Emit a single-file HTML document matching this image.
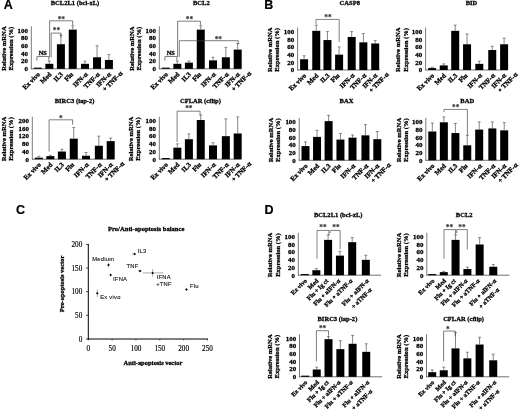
<!DOCTYPE html>
<html lang="en">
<head>
<meta charset="utf-8">
<title>Figure</title>
<style>html,body{margin:0;padding:0;background:#fff;}svg{display:block;}</style>
</head>
<body>
<svg width="520" height="416" viewBox="0 0 520 416">
<defs><filter id="soft" x="0" y="0" width="520" height="416" filterUnits="userSpaceOnUse"><feGaussianBlur stdDeviation="0.35"/></filter></defs>
<rect width="520" height="416" fill="#fff"/>
<g filter="url(#soft)">
<text x="3.70" y="8.60" font-family='"Liberation Sans", sans-serif' font-size="12.5" font-weight="bold" text-anchor="start" fill="#000" stroke="#000" stroke-width="0.2">A</text>
<text x="264.30" y="8.60" font-family='"Liberation Sans", sans-serif' font-size="12.5" font-weight="bold" text-anchor="start" fill="#000" stroke="#000" stroke-width="0.2">B</text>
<text x="15.90" y="213.90" font-family='"Liberation Sans", sans-serif' font-size="12.5" font-weight="bold" text-anchor="start" fill="#000" stroke="#000" stroke-width="0.2">C</text>
<text x="264.50" y="214.00" font-family='"Liberation Sans", sans-serif' font-size="12.5" font-weight="bold" text-anchor="start" fill="#000" stroke="#000" stroke-width="0.2">D</text>
<text x="75.00" y="4.90" font-family='"Liberation Serif", serif' font-size="6.55" font-weight="bold" text-anchor="middle" fill="#000" stroke="#000" stroke-width="0.28">BCL2L1 (bcl-xL)</text>
<line x1="31.30" y1="26.40" x2="31.30" y2="69.10" stroke="#6a6a6a" stroke-width="0.9"/>
<line x1="31.00" y1="68.80" x2="113.30" y2="68.80" stroke="#333" stroke-width="0.7"/>
<text x="27.90" y="71.10" font-family='"Liberation Serif", serif' font-size="6.95" font-weight="bold" text-anchor="end" fill="#000" stroke="#000" stroke-width="0.28">0</text>
<text x="27.90" y="63.42" font-family='"Liberation Serif", serif' font-size="6.95" font-weight="bold" text-anchor="end" fill="#000" stroke="#000" stroke-width="0.28">20</text>
<text x="27.90" y="55.74" font-family='"Liberation Serif", serif' font-size="6.95" font-weight="bold" text-anchor="end" fill="#000" stroke="#000" stroke-width="0.28">40</text>
<text x="27.90" y="48.06" font-family='"Liberation Serif", serif' font-size="6.95" font-weight="bold" text-anchor="end" fill="#000" stroke="#000" stroke-width="0.28">60</text>
<text x="27.90" y="40.38" font-family='"Liberation Serif", serif' font-size="6.95" font-weight="bold" text-anchor="end" fill="#000" stroke="#000" stroke-width="0.28">80</text>
<text x="27.90" y="32.70" font-family='"Liberation Serif", serif' font-size="6.95" font-weight="bold" text-anchor="end" fill="#000" stroke="#000" stroke-width="0.28">100</text>
<text x="6.20" y="48.60" font-family='"Liberation Serif", serif' font-size="6.6" font-weight="bold" text-anchor="middle" fill="#000" transform="rotate(-90 6.20 48.60)" stroke="#000" stroke-width="0.28">Relative mRNA</text>
<text x="13.30" y="48.60" font-family='"Liberation Serif", serif' font-size="6.6" font-weight="bold" text-anchor="middle" fill="#000" transform="rotate(-90 13.30 48.60)" stroke="#000" stroke-width="0.28">Expression (%)</text>
<rect x="33.80" y="67.65" width="8.00" height="1.15" fill="#000"/>
<text x="40.40" y="74.80" font-family='"Liberation Serif", serif' font-size="6.7" font-weight="bold" text-anchor="end" fill="#000" transform="rotate(-45 40.40 74.80)" stroke="#000" stroke-width="0.28">Ex vivo</text>
<rect x="45.35" y="63.81" width="8.00" height="4.99" fill="#000"/>
<line x1="49.35" y1="63.81" x2="49.35" y2="61.12" stroke="#444" stroke-width="0.65"/>
<line x1="47.85" y1="61.12" x2="50.85" y2="61.12" stroke="#444" stroke-width="0.6"/>
<text x="51.95" y="74.80" font-family='"Liberation Serif", serif' font-size="6.7" font-weight="bold" text-anchor="end" fill="#000" transform="rotate(-45 51.95 74.80)" stroke="#000" stroke-width="0.28">Med</text>
<rect x="56.90" y="44.22" width="8.00" height="24.58" fill="#000"/>
<line x1="60.90" y1="44.22" x2="60.90" y2="35.01" stroke="#444" stroke-width="0.65"/>
<line x1="59.40" y1="35.01" x2="62.40" y2="35.01" stroke="#444" stroke-width="0.6"/>
<text x="63.50" y="74.80" font-family='"Liberation Serif", serif' font-size="6.7" font-weight="bold" text-anchor="end" fill="#000" transform="rotate(-45 63.50 74.80)" stroke="#000" stroke-width="0.28">IL3</text>
<rect x="68.75" y="29.63" width="8.00" height="39.17" fill="#000"/>
<line x1="72.75" y1="29.63" x2="72.75" y2="25.79" stroke="#444" stroke-width="0.65"/>
<line x1="71.25" y1="25.79" x2="74.25" y2="25.79" stroke="#444" stroke-width="0.6"/>
<text x="73.75" y="74.80" font-family='"Liberation Serif", serif' font-size="6.7" font-weight="bold" text-anchor="end" fill="#000" transform="rotate(-45 73.75 74.80)" stroke="#000" stroke-width="0.28">Flu</text>
<rect x="81.00" y="63.81" width="8.00" height="4.99" fill="#000"/>
<line x1="85.00" y1="63.81" x2="85.00" y2="61.12" stroke="#444" stroke-width="0.65"/>
<line x1="83.50" y1="61.12" x2="86.50" y2="61.12" stroke="#444" stroke-width="0.6"/>
<text x="88.40" y="74.80" font-family='"Liberation Serif", serif' font-size="6.7" font-weight="bold" text-anchor="end" fill="#000" transform="rotate(-45 88.40 74.80)" stroke="#000" stroke-width="0.28">IFN-<tspan dx="0.3" font-size="7.2">α</tspan></text>
<rect x="93.05" y="57.28" width="8.00" height="11.52" fill="#000"/>
<line x1="97.05" y1="57.28" x2="97.05" y2="45.76" stroke="#444" stroke-width="0.65"/>
<line x1="95.55" y1="45.76" x2="98.55" y2="45.76" stroke="#444" stroke-width="0.6"/>
<text x="100.45" y="74.80" font-family='"Liberation Serif", serif' font-size="6.7" font-weight="bold" text-anchor="end" fill="#000" transform="rotate(-45 100.45 74.80)" stroke="#000" stroke-width="0.28">TNF-<tspan dx="0.3" font-size="7.2">α</tspan></text>
<rect x="104.90" y="59.97" width="8.00" height="8.83" fill="#000"/>
<line x1="108.90" y1="59.97" x2="108.90" y2="54.59" stroke="#444" stroke-width="0.65"/>
<line x1="107.40" y1="54.59" x2="110.40" y2="54.59" stroke="#444" stroke-width="0.6"/>
<text x="111.50" y="74.80" font-family='"Liberation Serif", serif' font-size="6.7" font-weight="bold" text-anchor="end" fill="#000" transform="rotate(-45 111.50 74.80)" stroke="#000" stroke-width="0.28">IFN-<tspan dx="0.3" font-size="7.2">α</tspan></text>
<text x="123.00" y="73.80" font-family='"Liberation Serif", serif' font-size="6.7" font-weight="bold" text-anchor="end" fill="#000" transform="rotate(-45 123.00 73.80)" stroke="#000" stroke-width="0.28">+ TNF-<tspan dx="0.3" font-size="7.2">α</tspan></text>
<polyline points="36.90,60.60 36.90,56.50 48.80,56.50 48.80,60.60" fill="none" stroke="#3a3a3a" stroke-width="0.65"/>
<text x="42.85" y="54.90" font-family='"Liberation Serif", serif' font-size="6.4" font-weight="bold" text-anchor="middle" fill="#000" stroke="#000" stroke-width="0.28">NS</text>
<polyline points="51.20,57.50 51.20,33.10 61.00,33.10 61.00,37.50" fill="none" stroke="#3a3a3a" stroke-width="0.65"/>
<text x="56.50" y="32.70" font-family='"Liberation Serif", serif' font-size="7.3" font-weight="bold" text-anchor="middle" fill="#2a2a2a" stroke="#2a2a2a" stroke-width="0.08">**</text>
<polyline points="49.60,57.50 49.60,20.80 72.60,20.80 72.60,25.00" fill="none" stroke="#3a3a3a" stroke-width="0.65"/>
<text x="61.30" y="22.10" font-family='"Liberation Serif", serif' font-size="7.3" font-weight="bold" text-anchor="middle" fill="#2a2a2a" stroke="#2a2a2a" stroke-width="0.08">**</text>
<text x="201.30" y="4.70" font-family='"Liberation Serif", serif' font-size="6.55" font-weight="bold" text-anchor="middle" fill="#000" stroke="#000" stroke-width="0.28">BCL2</text>
<line x1="159.30" y1="26.40" x2="159.30" y2="69.10" stroke="#6a6a6a" stroke-width="0.9"/>
<line x1="159.00" y1="68.80" x2="241.30" y2="68.80" stroke="#333" stroke-width="0.7"/>
<text x="155.90" y="71.10" font-family='"Liberation Serif", serif' font-size="6.95" font-weight="bold" text-anchor="end" fill="#000" stroke="#000" stroke-width="0.28">0</text>
<text x="155.90" y="63.42" font-family='"Liberation Serif", serif' font-size="6.95" font-weight="bold" text-anchor="end" fill="#000" stroke="#000" stroke-width="0.28">20</text>
<text x="155.90" y="55.74" font-family='"Liberation Serif", serif' font-size="6.95" font-weight="bold" text-anchor="end" fill="#000" stroke="#000" stroke-width="0.28">40</text>
<text x="155.90" y="48.06" font-family='"Liberation Serif", serif' font-size="6.95" font-weight="bold" text-anchor="end" fill="#000" stroke="#000" stroke-width="0.28">60</text>
<text x="155.90" y="40.38" font-family='"Liberation Serif", serif' font-size="6.95" font-weight="bold" text-anchor="end" fill="#000" stroke="#000" stroke-width="0.28">80</text>
<text x="155.90" y="32.70" font-family='"Liberation Serif", serif' font-size="6.95" font-weight="bold" text-anchor="end" fill="#000" stroke="#000" stroke-width="0.28">100</text>
<text x="134.20" y="48.60" font-family='"Liberation Serif", serif' font-size="6.6" font-weight="bold" text-anchor="middle" fill="#000" transform="rotate(-90 134.20 48.60)" stroke="#000" stroke-width="0.28">Relative mRNA</text>
<text x="141.30" y="48.60" font-family='"Liberation Serif", serif' font-size="6.6" font-weight="bold" text-anchor="middle" fill="#000" transform="rotate(-90 141.30 48.60)" stroke="#000" stroke-width="0.28">Expression (%)</text>
<rect x="161.80" y="67.65" width="8.00" height="1.15" fill="#000"/>
<text x="168.40" y="74.80" font-family='"Liberation Serif", serif' font-size="6.7" font-weight="bold" text-anchor="end" fill="#000" transform="rotate(-45 168.40 74.80)" stroke="#000" stroke-width="0.28">Ex vivo</text>
<rect x="173.35" y="63.81" width="8.00" height="4.99" fill="#000"/>
<line x1="177.35" y1="63.81" x2="177.35" y2="61.12" stroke="#444" stroke-width="0.65"/>
<line x1="175.85" y1="61.12" x2="178.85" y2="61.12" stroke="#444" stroke-width="0.6"/>
<text x="179.95" y="74.80" font-family='"Liberation Serif", serif' font-size="6.7" font-weight="bold" text-anchor="end" fill="#000" transform="rotate(-45 179.95 74.80)" stroke="#000" stroke-width="0.28">Med</text>
<rect x="184.90" y="62.66" width="8.00" height="6.14" fill="#000"/>
<line x1="188.90" y1="62.66" x2="188.90" y2="61.12" stroke="#444" stroke-width="0.65"/>
<line x1="187.40" y1="61.12" x2="190.40" y2="61.12" stroke="#444" stroke-width="0.6"/>
<text x="191.50" y="74.80" font-family='"Liberation Serif", serif' font-size="6.7" font-weight="bold" text-anchor="end" fill="#000" transform="rotate(-45 191.50 74.80)" stroke="#000" stroke-width="0.28">IL3</text>
<rect x="196.75" y="29.63" width="8.00" height="39.17" fill="#000"/>
<line x1="200.75" y1="29.63" x2="200.75" y2="25.79" stroke="#444" stroke-width="0.65"/>
<line x1="199.25" y1="25.79" x2="202.25" y2="25.79" stroke="#444" stroke-width="0.6"/>
<text x="201.75" y="74.80" font-family='"Liberation Serif", serif' font-size="6.7" font-weight="bold" text-anchor="end" fill="#000" transform="rotate(-45 201.75 74.80)" stroke="#000" stroke-width="0.28">Flu</text>
<rect x="209.00" y="60.35" width="8.00" height="8.45" fill="#000"/>
<line x1="213.00" y1="60.35" x2="213.00" y2="57.28" stroke="#444" stroke-width="0.65"/>
<line x1="211.50" y1="57.28" x2="214.50" y2="57.28" stroke="#444" stroke-width="0.6"/>
<text x="216.40" y="74.80" font-family='"Liberation Serif", serif' font-size="6.7" font-weight="bold" text-anchor="end" fill="#000" transform="rotate(-45 216.40 74.80)" stroke="#000" stroke-width="0.28">IFN-<tspan dx="0.3" font-size="7.2">α</tspan></text>
<rect x="221.85" y="57.28" width="8.00" height="11.52" fill="#000"/>
<line x1="225.85" y1="57.28" x2="225.85" y2="47.30" stroke="#444" stroke-width="0.65"/>
<line x1="224.35" y1="47.30" x2="227.35" y2="47.30" stroke="#444" stroke-width="0.6"/>
<text x="229.25" y="74.80" font-family='"Liberation Serif", serif' font-size="6.7" font-weight="bold" text-anchor="end" fill="#000" transform="rotate(-45 229.25 74.80)" stroke="#000" stroke-width="0.28">TNF-<tspan dx="0.3" font-size="7.2">α</tspan></text>
<rect x="233.70" y="49.60" width="8.00" height="19.20" fill="#000"/>
<line x1="237.70" y1="49.60" x2="237.70" y2="43.46" stroke="#444" stroke-width="0.65"/>
<line x1="236.20" y1="43.46" x2="239.20" y2="43.46" stroke="#444" stroke-width="0.6"/>
<text x="240.30" y="74.80" font-family='"Liberation Serif", serif' font-size="6.7" font-weight="bold" text-anchor="end" fill="#000" transform="rotate(-45 240.30 74.80)" stroke="#000" stroke-width="0.28">IFN-<tspan dx="0.3" font-size="7.2">α</tspan></text>
<text x="251.80" y="73.80" font-family='"Liberation Serif", serif' font-size="6.7" font-weight="bold" text-anchor="end" fill="#000" transform="rotate(-45 251.80 73.80)" stroke="#000" stroke-width="0.28">+ TNF-<tspan dx="0.3" font-size="7.2">α</tspan></text>
<polyline points="164.90,60.60 164.90,56.50 176.80,56.50 176.80,60.60" fill="none" stroke="#3a3a3a" stroke-width="0.65"/>
<text x="170.85" y="54.90" font-family='"Liberation Serif", serif' font-size="6.4" font-weight="bold" text-anchor="middle" fill="#000" stroke="#000" stroke-width="0.28">NS</text>
<polyline points="177.60,57.00 177.60,21.20 200.40,21.20 200.40,25.00" fill="none" stroke="#3a3a3a" stroke-width="0.65"/>
<text x="189.40" y="22.10" font-family='"Liberation Serif", serif' font-size="7.3" font-weight="bold" text-anchor="middle" fill="#2a2a2a" stroke="#2a2a2a" stroke-width="0.08">**</text>
<polyline points="179.30,57.00 179.30,40.70 238.20,40.70 238.20,44.20" fill="none" stroke="#3a3a3a" stroke-width="0.65"/>
<text x="218.30" y="41.90" font-family='"Liberation Serif", serif' font-size="7.3" font-weight="bold" text-anchor="middle" fill="#2a2a2a" stroke="#2a2a2a" stroke-width="0.08">**</text>
<text x="74.60" y="103.20" font-family='"Liberation Serif", serif' font-size="6.55" font-weight="bold" text-anchor="middle" fill="#000" stroke="#000" stroke-width="0.28">BIRC3 (iap-2)</text>
<line x1="32.30" y1="116.80" x2="32.30" y2="159.50" stroke="#6a6a6a" stroke-width="0.9"/>
<line x1="32.00" y1="159.20" x2="114.30" y2="159.20" stroke="#333" stroke-width="0.7"/>
<text x="28.90" y="161.50" font-family='"Liberation Serif", serif' font-size="6.95" font-weight="bold" text-anchor="end" fill="#000" stroke="#000" stroke-width="0.28">0</text>
<text x="28.90" y="153.82" font-family='"Liberation Serif", serif' font-size="6.95" font-weight="bold" text-anchor="end" fill="#000" stroke="#000" stroke-width="0.28">40</text>
<text x="28.90" y="146.14" font-family='"Liberation Serif", serif' font-size="6.95" font-weight="bold" text-anchor="end" fill="#000" stroke="#000" stroke-width="0.28">80</text>
<text x="28.90" y="138.46" font-family='"Liberation Serif", serif' font-size="6.95" font-weight="bold" text-anchor="end" fill="#000" stroke="#000" stroke-width="0.28">120</text>
<text x="28.90" y="130.78" font-family='"Liberation Serif", serif' font-size="6.95" font-weight="bold" text-anchor="end" fill="#000" stroke="#000" stroke-width="0.28">160</text>
<text x="28.90" y="123.10" font-family='"Liberation Serif", serif' font-size="6.95" font-weight="bold" text-anchor="end" fill="#000" stroke="#000" stroke-width="0.28">200</text>
<text x="6.00" y="139.00" font-family='"Liberation Serif", serif' font-size="6.6" font-weight="bold" text-anchor="middle" fill="#000" transform="rotate(-90 6.00 139.00)" stroke="#000" stroke-width="0.28">Relative mRNA</text>
<text x="13.10" y="139.00" font-family='"Liberation Serif", serif' font-size="6.6" font-weight="bold" text-anchor="middle" fill="#000" transform="rotate(-90 13.10 139.00)" stroke="#000" stroke-width="0.28">Expression (%)</text>
<rect x="34.80" y="157.66" width="8.00" height="1.54" fill="#000"/>
<line x1="38.80" y1="157.66" x2="38.80" y2="156.32" stroke="#444" stroke-width="0.65"/>
<line x1="37.30" y1="156.32" x2="40.30" y2="156.32" stroke="#444" stroke-width="0.6"/>
<text x="41.40" y="165.20" font-family='"Liberation Serif", serif' font-size="6.7" font-weight="bold" text-anchor="end" fill="#000" transform="rotate(-45 41.40 165.20)" stroke="#000" stroke-width="0.28">Ex vivo</text>
<rect x="46.35" y="156.13" width="8.00" height="3.07" fill="#000"/>
<line x1="50.35" y1="156.13" x2="50.35" y2="155.36" stroke="#444" stroke-width="0.65"/>
<line x1="48.85" y1="155.36" x2="51.85" y2="155.36" stroke="#444" stroke-width="0.6"/>
<text x="52.95" y="165.20" font-family='"Liberation Serif", serif' font-size="6.7" font-weight="bold" text-anchor="end" fill="#000" transform="rotate(-45 52.95 165.20)" stroke="#000" stroke-width="0.28">Med</text>
<rect x="57.90" y="151.52" width="8.00" height="7.68" fill="#000"/>
<line x1="61.90" y1="151.52" x2="61.90" y2="149.22" stroke="#444" stroke-width="0.65"/>
<line x1="60.40" y1="149.22" x2="63.40" y2="149.22" stroke="#444" stroke-width="0.6"/>
<text x="64.50" y="165.20" font-family='"Liberation Serif", serif' font-size="6.7" font-weight="bold" text-anchor="end" fill="#000" transform="rotate(-45 64.50 165.20)" stroke="#000" stroke-width="0.28">IL3</text>
<rect x="69.75" y="138.66" width="8.00" height="20.54" fill="#000"/>
<line x1="73.75" y1="138.66" x2="73.75" y2="127.52" stroke="#444" stroke-width="0.65"/>
<line x1="72.25" y1="127.52" x2="75.25" y2="127.52" stroke="#444" stroke-width="0.6"/>
<text x="74.75" y="165.20" font-family='"Liberation Serif", serif' font-size="6.7" font-weight="bold" text-anchor="end" fill="#000" transform="rotate(-45 74.75 165.20)" stroke="#000" stroke-width="0.28">Flu</text>
<rect x="82.00" y="155.74" width="8.00" height="3.46" fill="#000"/>
<line x1="86.00" y1="155.74" x2="86.00" y2="152.48" stroke="#444" stroke-width="0.65"/>
<line x1="84.50" y1="152.48" x2="87.50" y2="152.48" stroke="#444" stroke-width="0.6"/>
<text x="89.40" y="165.20" font-family='"Liberation Serif", serif' font-size="6.7" font-weight="bold" text-anchor="end" fill="#000" transform="rotate(-45 89.40 165.20)" stroke="#000" stroke-width="0.28">IFN-<tspan dx="0.3" font-size="7.2">α</tspan></text>
<rect x="94.85" y="145.76" width="8.00" height="13.44" fill="#000"/>
<line x1="98.85" y1="145.76" x2="98.85" y2="136.16" stroke="#444" stroke-width="0.65"/>
<line x1="97.35" y1="136.16" x2="100.35" y2="136.16" stroke="#444" stroke-width="0.6"/>
<text x="102.25" y="165.20" font-family='"Liberation Serif", serif' font-size="6.7" font-weight="bold" text-anchor="end" fill="#000" transform="rotate(-45 102.25 165.20)" stroke="#000" stroke-width="0.28">TNF-<tspan dx="0.3" font-size="7.2">α</tspan></text>
<rect x="106.70" y="141.15" width="8.00" height="18.05" fill="#000"/>
<line x1="110.70" y1="141.15" x2="110.70" y2="138.08" stroke="#444" stroke-width="0.65"/>
<line x1="109.20" y1="138.08" x2="112.20" y2="138.08" stroke="#444" stroke-width="0.6"/>
<text x="113.30" y="165.20" font-family='"Liberation Serif", serif' font-size="6.7" font-weight="bold" text-anchor="end" fill="#000" transform="rotate(-45 113.30 165.20)" stroke="#000" stroke-width="0.28">IFN-<tspan dx="0.3" font-size="7.2">α</tspan></text>
<text x="124.80" y="164.20" font-family='"Liberation Serif", serif' font-size="6.7" font-weight="bold" text-anchor="end" fill="#000" transform="rotate(-45 124.80 164.20)" stroke="#000" stroke-width="0.28">+ TNF-<tspan dx="0.3" font-size="7.2">α</tspan></text>
<polyline points="49.10,151.50 49.10,119.80 72.60,119.80 72.60,124.70" fill="none" stroke="#3a3a3a" stroke-width="0.65"/>
<text x="60.90" y="121.10" font-family='"Liberation Serif", serif' font-size="7.3" font-weight="bold" text-anchor="middle" fill="#2a2a2a" stroke="#2a2a2a" stroke-width="0.08">*</text>
<text x="200.40" y="103.20" font-family='"Liberation Serif", serif' font-size="6.55" font-weight="bold" text-anchor="middle" fill="#000" stroke="#000" stroke-width="0.28">CFLAR (cflip)</text>
<line x1="159.30" y1="116.80" x2="159.30" y2="159.50" stroke="#6a6a6a" stroke-width="0.9"/>
<line x1="159.00" y1="159.20" x2="241.30" y2="159.20" stroke="#333" stroke-width="0.7"/>
<text x="155.90" y="161.50" font-family='"Liberation Serif", serif' font-size="6.95" font-weight="bold" text-anchor="end" fill="#000" stroke="#000" stroke-width="0.28">0</text>
<text x="155.90" y="153.82" font-family='"Liberation Serif", serif' font-size="6.95" font-weight="bold" text-anchor="end" fill="#000" stroke="#000" stroke-width="0.28">20</text>
<text x="155.90" y="146.14" font-family='"Liberation Serif", serif' font-size="6.95" font-weight="bold" text-anchor="end" fill="#000" stroke="#000" stroke-width="0.28">40</text>
<text x="155.90" y="138.46" font-family='"Liberation Serif", serif' font-size="6.95" font-weight="bold" text-anchor="end" fill="#000" stroke="#000" stroke-width="0.28">60</text>
<text x="155.90" y="130.78" font-family='"Liberation Serif", serif' font-size="6.95" font-weight="bold" text-anchor="end" fill="#000" stroke="#000" stroke-width="0.28">80</text>
<text x="155.90" y="123.10" font-family='"Liberation Serif", serif' font-size="6.95" font-weight="bold" text-anchor="end" fill="#000" stroke="#000" stroke-width="0.28">100</text>
<text x="133.00" y="139.00" font-family='"Liberation Serif", serif' font-size="6.6" font-weight="bold" text-anchor="middle" fill="#000" transform="rotate(-90 133.00 139.00)" stroke="#000" stroke-width="0.28">Relative mRNA</text>
<text x="140.10" y="139.00" font-family='"Liberation Serif", serif' font-size="6.6" font-weight="bold" text-anchor="middle" fill="#000" transform="rotate(-90 140.10 139.00)" stroke="#000" stroke-width="0.28">Expression (%)</text>
<rect x="161.80" y="158.05" width="8.00" height="1.15" fill="#000"/>
<text x="168.40" y="165.20" font-family='"Liberation Serif", serif' font-size="6.7" font-weight="bold" text-anchor="end" fill="#000" transform="rotate(-45 168.40 165.20)" stroke="#000" stroke-width="0.28">Ex vivo</text>
<rect x="173.35" y="147.68" width="8.00" height="11.52" fill="#000"/>
<line x1="177.35" y1="147.68" x2="177.35" y2="143.84" stroke="#444" stroke-width="0.65"/>
<line x1="175.85" y1="143.84" x2="178.85" y2="143.84" stroke="#444" stroke-width="0.6"/>
<text x="179.95" y="165.20" font-family='"Liberation Serif", serif' font-size="6.7" font-weight="bold" text-anchor="end" fill="#000" transform="rotate(-45 179.95 165.20)" stroke="#000" stroke-width="0.28">Med</text>
<rect x="184.90" y="139.23" width="8.00" height="19.97" fill="#000"/>
<line x1="188.90" y1="139.23" x2="188.90" y2="133.86" stroke="#444" stroke-width="0.65"/>
<line x1="187.40" y1="133.86" x2="190.40" y2="133.86" stroke="#444" stroke-width="0.6"/>
<text x="191.50" y="165.20" font-family='"Liberation Serif", serif' font-size="6.7" font-weight="bold" text-anchor="end" fill="#000" transform="rotate(-45 191.50 165.20)" stroke="#000" stroke-width="0.28">IL3</text>
<rect x="196.75" y="120.03" width="8.00" height="39.17" fill="#000"/>
<line x1="200.75" y1="120.03" x2="200.75" y2="115.04" stroke="#444" stroke-width="0.65"/>
<line x1="199.25" y1="115.04" x2="202.25" y2="115.04" stroke="#444" stroke-width="0.6"/>
<text x="201.75" y="165.20" font-family='"Liberation Serif", serif' font-size="6.7" font-weight="bold" text-anchor="end" fill="#000" transform="rotate(-45 201.75 165.20)" stroke="#000" stroke-width="0.28">Flu</text>
<rect x="209.00" y="145.38" width="8.00" height="13.82" fill="#000"/>
<line x1="213.00" y1="145.38" x2="213.00" y2="142.69" stroke="#444" stroke-width="0.65"/>
<line x1="211.50" y1="142.69" x2="214.50" y2="142.69" stroke="#444" stroke-width="0.6"/>
<text x="216.40" y="165.20" font-family='"Liberation Serif", serif' font-size="6.7" font-weight="bold" text-anchor="end" fill="#000" transform="rotate(-45 216.40 165.20)" stroke="#000" stroke-width="0.28">IFN-<tspan dx="0.3" font-size="7.2">α</tspan></text>
<rect x="221.85" y="136.16" width="8.00" height="23.04" fill="#000"/>
<line x1="225.85" y1="136.16" x2="225.85" y2="118.88" stroke="#444" stroke-width="0.65"/>
<line x1="224.35" y1="118.88" x2="227.35" y2="118.88" stroke="#444" stroke-width="0.6"/>
<text x="229.25" y="165.20" font-family='"Liberation Serif", serif' font-size="6.7" font-weight="bold" text-anchor="end" fill="#000" transform="rotate(-45 229.25 165.20)" stroke="#000" stroke-width="0.28">TNF-<tspan dx="0.3" font-size="7.2">α</tspan></text>
<rect x="233.70" y="133.47" width="8.00" height="25.73" fill="#000"/>
<line x1="237.70" y1="133.47" x2="237.70" y2="116.96" stroke="#444" stroke-width="0.65"/>
<line x1="236.20" y1="116.96" x2="239.20" y2="116.96" stroke="#444" stroke-width="0.6"/>
<text x="240.30" y="165.20" font-family='"Liberation Serif", serif' font-size="6.7" font-weight="bold" text-anchor="end" fill="#000" transform="rotate(-45 240.30 165.20)" stroke="#000" stroke-width="0.28">IFN-<tspan dx="0.3" font-size="7.2">α</tspan></text>
<text x="251.80" y="164.20" font-family='"Liberation Serif", serif' font-size="6.7" font-weight="bold" text-anchor="end" fill="#000" transform="rotate(-45 251.80 164.20)" stroke="#000" stroke-width="0.28">+ TNF-<tspan dx="0.3" font-size="7.2">α</tspan></text>
<polyline points="177.10,142.00 177.10,111.20 200.10,111.20 200.10,115.00" fill="none" stroke="#3a3a3a" stroke-width="0.65"/>
<text x="188.80" y="110.80" font-family='"Liberation Serif", serif' font-size="7.3" font-weight="bold" text-anchor="middle" fill="#2a2a2a" stroke="#2a2a2a" stroke-width="0.08">**</text>
<text x="349.80" y="4.80" font-family='"Liberation Serif", serif' font-size="6.55" font-weight="bold" text-anchor="middle" fill="#000" stroke="#000" stroke-width="0.28">CASP8</text>
<line x1="297.60" y1="27.60" x2="297.60" y2="70.30" stroke="#6a6a6a" stroke-width="0.9"/>
<line x1="297.30" y1="70.00" x2="379.60" y2="70.00" stroke="#333" stroke-width="0.7"/>
<text x="294.20" y="72.30" font-family='"Liberation Serif", serif' font-size="6.95" font-weight="bold" text-anchor="end" fill="#000" stroke="#000" stroke-width="0.28">0</text>
<text x="294.20" y="64.62" font-family='"Liberation Serif", serif' font-size="6.95" font-weight="bold" text-anchor="end" fill="#000" stroke="#000" stroke-width="0.28">20</text>
<text x="294.20" y="56.94" font-family='"Liberation Serif", serif' font-size="6.95" font-weight="bold" text-anchor="end" fill="#000" stroke="#000" stroke-width="0.28">40</text>
<text x="294.20" y="49.26" font-family='"Liberation Serif", serif' font-size="6.95" font-weight="bold" text-anchor="end" fill="#000" stroke="#000" stroke-width="0.28">60</text>
<text x="294.20" y="41.58" font-family='"Liberation Serif", serif' font-size="6.95" font-weight="bold" text-anchor="end" fill="#000" stroke="#000" stroke-width="0.28">80</text>
<text x="294.20" y="33.90" font-family='"Liberation Serif", serif' font-size="6.95" font-weight="bold" text-anchor="end" fill="#000" stroke="#000" stroke-width="0.28">100</text>
<text x="271.90" y="49.80" font-family='"Liberation Serif", serif' font-size="6.6" font-weight="bold" text-anchor="middle" fill="#000" transform="rotate(-90 271.90 49.80)" stroke="#000" stroke-width="0.28">Relative mRNA</text>
<text x="279.00" y="49.80" font-family='"Liberation Serif", serif' font-size="6.6" font-weight="bold" text-anchor="middle" fill="#000" transform="rotate(-90 279.00 49.80)" stroke="#000" stroke-width="0.28">Expression (%)</text>
<rect x="300.10" y="59.25" width="8.00" height="10.75" fill="#000"/>
<line x1="304.10" y1="59.25" x2="304.10" y2="55.79" stroke="#444" stroke-width="0.65"/>
<line x1="302.60" y1="55.79" x2="305.60" y2="55.79" stroke="#444" stroke-width="0.6"/>
<text x="306.70" y="76.00" font-family='"Liberation Serif", serif' font-size="6.7" font-weight="bold" text-anchor="end" fill="#000" transform="rotate(-45 306.70 76.00)" stroke="#000" stroke-width="0.28">Ex vivo</text>
<rect x="312.25" y="30.83" width="8.00" height="39.17" fill="#000"/>
<line x1="316.25" y1="30.83" x2="316.25" y2="25.07" stroke="#444" stroke-width="0.65"/>
<line x1="314.75" y1="25.07" x2="317.75" y2="25.07" stroke="#444" stroke-width="0.6"/>
<text x="318.85" y="76.00" font-family='"Liberation Serif", serif' font-size="6.7" font-weight="bold" text-anchor="end" fill="#000" transform="rotate(-45 318.85 76.00)" stroke="#000" stroke-width="0.28">Med</text>
<rect x="323.45" y="40.05" width="8.00" height="29.95" fill="#000"/>
<line x1="327.45" y1="40.05" x2="327.45" y2="31.60" stroke="#444" stroke-width="0.65"/>
<line x1="325.95" y1="31.60" x2="328.95" y2="31.60" stroke="#444" stroke-width="0.6"/>
<text x="330.05" y="76.00" font-family='"Liberation Serif", serif' font-size="6.7" font-weight="bold" text-anchor="end" fill="#000" transform="rotate(-45 330.05 76.00)" stroke="#000" stroke-width="0.28">IL3</text>
<rect x="335.10" y="54.64" width="8.00" height="15.36" fill="#000"/>
<line x1="339.10" y1="54.64" x2="339.10" y2="46.96" stroke="#444" stroke-width="0.65"/>
<line x1="337.60" y1="46.96" x2="340.60" y2="46.96" stroke="#444" stroke-width="0.6"/>
<text x="340.10" y="76.00" font-family='"Liberation Serif", serif' font-size="6.7" font-weight="bold" text-anchor="end" fill="#000" transform="rotate(-45 340.10 76.00)" stroke="#000" stroke-width="0.28">Flu</text>
<rect x="347.70" y="36.98" width="8.00" height="33.02" fill="#000"/>
<line x1="351.70" y1="36.98" x2="351.70" y2="31.60" stroke="#444" stroke-width="0.65"/>
<line x1="350.20" y1="31.60" x2="353.20" y2="31.60" stroke="#444" stroke-width="0.6"/>
<text x="355.10" y="76.00" font-family='"Liberation Serif", serif' font-size="6.7" font-weight="bold" text-anchor="end" fill="#000" transform="rotate(-45 355.10 76.00)" stroke="#000" stroke-width="0.28">IFN-<tspan dx="0.3" font-size="7.2">α</tspan></text>
<rect x="359.35" y="42.35" width="8.00" height="27.65" fill="#000"/>
<line x1="363.35" y1="42.35" x2="363.35" y2="33.52" stroke="#444" stroke-width="0.65"/>
<line x1="361.85" y1="33.52" x2="364.85" y2="33.52" stroke="#444" stroke-width="0.6"/>
<text x="366.75" y="76.00" font-family='"Liberation Serif", serif' font-size="6.7" font-weight="bold" text-anchor="end" fill="#000" transform="rotate(-45 366.75 76.00)" stroke="#000" stroke-width="0.28">TNF-<tspan dx="0.3" font-size="7.2">α</tspan></text>
<rect x="371.20" y="43.50" width="8.00" height="26.50" fill="#000"/>
<line x1="375.20" y1="43.50" x2="375.20" y2="40.43" stroke="#444" stroke-width="0.65"/>
<line x1="373.70" y1="40.43" x2="376.70" y2="40.43" stroke="#444" stroke-width="0.6"/>
<text x="377.80" y="76.00" font-family='"Liberation Serif", serif' font-size="6.7" font-weight="bold" text-anchor="end" fill="#000" transform="rotate(-45 377.80 76.00)" stroke="#000" stroke-width="0.28">IFN-<tspan dx="0.3" font-size="7.2">α</tspan></text>
<text x="389.30" y="75.00" font-family='"Liberation Serif", serif' font-size="6.7" font-weight="bold" text-anchor="end" fill="#000" transform="rotate(-45 389.30 75.00)" stroke="#000" stroke-width="0.28">+ TNF-<tspan dx="0.3" font-size="7.2">α</tspan></text>
<polyline points="316.00,23.80 316.00,19.40 339.20,19.40 339.20,42.00" fill="none" stroke="#3a3a3a" stroke-width="0.65"/>
<text x="328.00" y="20.20" font-family='"Liberation Serif", serif' font-size="7.3" font-weight="bold" text-anchor="middle" fill="#2a2a2a" stroke="#2a2a2a" stroke-width="0.08">**</text>
<text x="471.50" y="4.80" font-family='"Liberation Serif", serif' font-size="6.55" font-weight="bold" text-anchor="middle" fill="#000" stroke="#000" stroke-width="0.28">BID</text>
<line x1="425.60" y1="27.60" x2="425.60" y2="70.30" stroke="#6a6a6a" stroke-width="0.9"/>
<line x1="425.30" y1="70.00" x2="507.60" y2="70.00" stroke="#333" stroke-width="0.7"/>
<text x="422.20" y="72.30" font-family='"Liberation Serif", serif' font-size="6.95" font-weight="bold" text-anchor="end" fill="#000" stroke="#000" stroke-width="0.28">0</text>
<text x="422.20" y="64.62" font-family='"Liberation Serif", serif' font-size="6.95" font-weight="bold" text-anchor="end" fill="#000" stroke="#000" stroke-width="0.28">20</text>
<text x="422.20" y="56.94" font-family='"Liberation Serif", serif' font-size="6.95" font-weight="bold" text-anchor="end" fill="#000" stroke="#000" stroke-width="0.28">40</text>
<text x="422.20" y="49.26" font-family='"Liberation Serif", serif' font-size="6.95" font-weight="bold" text-anchor="end" fill="#000" stroke="#000" stroke-width="0.28">60</text>
<text x="422.20" y="41.58" font-family='"Liberation Serif", serif' font-size="6.95" font-weight="bold" text-anchor="end" fill="#000" stroke="#000" stroke-width="0.28">80</text>
<text x="422.20" y="33.90" font-family='"Liberation Serif", serif' font-size="6.95" font-weight="bold" text-anchor="end" fill="#000" stroke="#000" stroke-width="0.28">100</text>
<text x="400.50" y="49.80" font-family='"Liberation Serif", serif' font-size="6.6" font-weight="bold" text-anchor="middle" fill="#000" transform="rotate(-90 400.50 49.80)" stroke="#000" stroke-width="0.28">Relative mRNA</text>
<text x="407.60" y="49.80" font-family='"Liberation Serif", serif' font-size="6.6" font-weight="bold" text-anchor="middle" fill="#000" transform="rotate(-90 407.60 49.80)" stroke="#000" stroke-width="0.28">Expression (%)</text>
<rect x="428.10" y="68.08" width="8.00" height="1.92" fill="#000"/>
<line x1="432.10" y1="68.08" x2="432.10" y2="67.31" stroke="#444" stroke-width="0.65"/>
<line x1="430.60" y1="67.31" x2="433.60" y2="67.31" stroke="#444" stroke-width="0.6"/>
<text x="434.70" y="76.00" font-family='"Liberation Serif", serif' font-size="6.7" font-weight="bold" text-anchor="end" fill="#000" transform="rotate(-45 434.70 76.00)" stroke="#000" stroke-width="0.28">Ex vivo</text>
<rect x="439.75" y="65.39" width="8.00" height="4.61" fill="#000"/>
<line x1="443.75" y1="65.39" x2="443.75" y2="63.86" stroke="#444" stroke-width="0.65"/>
<line x1="442.25" y1="63.86" x2="445.25" y2="63.86" stroke="#444" stroke-width="0.6"/>
<text x="446.35" y="76.00" font-family='"Liberation Serif", serif' font-size="6.7" font-weight="bold" text-anchor="end" fill="#000" transform="rotate(-45 446.35 76.00)" stroke="#000" stroke-width="0.28">Med</text>
<rect x="451.20" y="30.83" width="8.00" height="39.17" fill="#000"/>
<line x1="455.20" y1="30.83" x2="455.20" y2="25.07" stroke="#444" stroke-width="0.65"/>
<line x1="453.70" y1="25.07" x2="456.70" y2="25.07" stroke="#444" stroke-width="0.6"/>
<text x="457.80" y="76.00" font-family='"Liberation Serif", serif' font-size="6.7" font-weight="bold" text-anchor="end" fill="#000" transform="rotate(-45 457.80 76.00)" stroke="#000" stroke-width="0.28">IL3</text>
<rect x="463.05" y="44.27" width="8.00" height="25.73" fill="#000"/>
<line x1="467.05" y1="44.27" x2="467.05" y2="33.90" stroke="#444" stroke-width="0.65"/>
<line x1="465.55" y1="33.90" x2="468.55" y2="33.90" stroke="#444" stroke-width="0.6"/>
<text x="468.05" y="76.00" font-family='"Liberation Serif", serif' font-size="6.7" font-weight="bold" text-anchor="end" fill="#000" transform="rotate(-45 468.05 76.00)" stroke="#000" stroke-width="0.28">Flu</text>
<rect x="475.30" y="63.86" width="8.00" height="6.14" fill="#000"/>
<line x1="479.30" y1="63.86" x2="479.30" y2="61.17" stroke="#444" stroke-width="0.65"/>
<line x1="477.80" y1="61.17" x2="480.80" y2="61.17" stroke="#444" stroke-width="0.6"/>
<text x="482.70" y="76.00" font-family='"Liberation Serif", serif' font-size="6.7" font-weight="bold" text-anchor="end" fill="#000" transform="rotate(-45 482.70 76.00)" stroke="#000" stroke-width="0.28">IFN-<tspan dx="0.3" font-size="7.2">α</tspan></text>
<rect x="488.25" y="50.03" width="8.00" height="19.97" fill="#000"/>
<line x1="492.25" y1="50.03" x2="492.25" y2="46.19" stroke="#444" stroke-width="0.65"/>
<line x1="490.75" y1="46.19" x2="493.75" y2="46.19" stroke="#444" stroke-width="0.6"/>
<text x="495.65" y="76.00" font-family='"Liberation Serif", serif' font-size="6.7" font-weight="bold" text-anchor="end" fill="#000" transform="rotate(-45 495.65 76.00)" stroke="#000" stroke-width="0.28">TNF-<tspan dx="0.3" font-size="7.2">α</tspan></text>
<rect x="500.10" y="44.27" width="8.00" height="25.73" fill="#000"/>
<line x1="504.10" y1="44.27" x2="504.10" y2="38.13" stroke="#444" stroke-width="0.65"/>
<line x1="502.60" y1="38.13" x2="505.60" y2="38.13" stroke="#444" stroke-width="0.6"/>
<text x="506.70" y="76.00" font-family='"Liberation Serif", serif' font-size="6.7" font-weight="bold" text-anchor="end" fill="#000" transform="rotate(-45 506.70 76.00)" stroke="#000" stroke-width="0.28">IFN-<tspan dx="0.3" font-size="7.2">α</tspan></text>
<text x="518.20" y="75.00" font-family='"Liberation Serif", serif' font-size="6.7" font-weight="bold" text-anchor="end" fill="#000" transform="rotate(-45 518.20 75.00)" stroke="#000" stroke-width="0.28">+ TNF-<tspan dx="0.3" font-size="7.2">α</tspan></text>
<text x="346.50" y="102.60" font-family='"Liberation Serif", serif' font-size="6.55" font-weight="bold" text-anchor="middle" fill="#000" stroke="#000" stroke-width="0.28">BAX</text>
<line x1="299.20" y1="117.90" x2="299.20" y2="160.60" stroke="#6a6a6a" stroke-width="0.9"/>
<line x1="298.90" y1="160.30" x2="381.20" y2="160.30" stroke="#333" stroke-width="0.7"/>
<text x="295.80" y="162.60" font-family='"Liberation Serif", serif' font-size="6.95" font-weight="bold" text-anchor="end" fill="#000" stroke="#000" stroke-width="0.28">0</text>
<text x="295.80" y="154.92" font-family='"Liberation Serif", serif' font-size="6.95" font-weight="bold" text-anchor="end" fill="#000" stroke="#000" stroke-width="0.28">20</text>
<text x="295.80" y="147.24" font-family='"Liberation Serif", serif' font-size="6.95" font-weight="bold" text-anchor="end" fill="#000" stroke="#000" stroke-width="0.28">40</text>
<text x="295.80" y="139.56" font-family='"Liberation Serif", serif' font-size="6.95" font-weight="bold" text-anchor="end" fill="#000" stroke="#000" stroke-width="0.28">60</text>
<text x="295.80" y="131.88" font-family='"Liberation Serif", serif' font-size="6.95" font-weight="bold" text-anchor="end" fill="#000" stroke="#000" stroke-width="0.28">80</text>
<text x="295.80" y="124.20" font-family='"Liberation Serif", serif' font-size="6.95" font-weight="bold" text-anchor="end" fill="#000" stroke="#000" stroke-width="0.28">100</text>
<text x="272.60" y="140.10" font-family='"Liberation Serif", serif' font-size="6.6" font-weight="bold" text-anchor="middle" fill="#000" transform="rotate(-90 272.60 140.10)" stroke="#000" stroke-width="0.28">Relative mRNA</text>
<text x="279.70" y="140.10" font-family='"Liberation Serif", serif' font-size="6.6" font-weight="bold" text-anchor="middle" fill="#000" transform="rotate(-90 279.70 140.10)" stroke="#000" stroke-width="0.28">Expression (%)</text>
<rect x="301.50" y="146.09" width="8.00" height="14.21" fill="#000"/>
<line x1="305.50" y1="146.09" x2="305.50" y2="141.87" stroke="#444" stroke-width="0.65"/>
<line x1="304.00" y1="141.87" x2="307.00" y2="141.87" stroke="#444" stroke-width="0.6"/>
<text x="308.10" y="166.30" font-family='"Liberation Serif", serif' font-size="6.7" font-weight="bold" text-anchor="end" fill="#000" transform="rotate(-45 308.10 166.30)" stroke="#000" stroke-width="0.28">Ex vivo</text>
<rect x="313.05" y="136.88" width="8.00" height="23.42" fill="#000"/>
<line x1="317.05" y1="136.88" x2="317.05" y2="130.35" stroke="#444" stroke-width="0.65"/>
<line x1="315.55" y1="130.35" x2="318.55" y2="130.35" stroke="#444" stroke-width="0.6"/>
<text x="319.65" y="166.30" font-family='"Liberation Serif", serif' font-size="6.7" font-weight="bold" text-anchor="end" fill="#000" transform="rotate(-45 319.65 166.30)" stroke="#000" stroke-width="0.28">Med</text>
<rect x="324.60" y="121.13" width="8.00" height="39.17" fill="#000"/>
<line x1="328.60" y1="121.13" x2="328.60" y2="115.37" stroke="#444" stroke-width="0.65"/>
<line x1="327.10" y1="115.37" x2="330.10" y2="115.37" stroke="#444" stroke-width="0.6"/>
<text x="331.20" y="166.30" font-family='"Liberation Serif", serif' font-size="6.7" font-weight="bold" text-anchor="end" fill="#000" transform="rotate(-45 331.20 166.30)" stroke="#000" stroke-width="0.28">IL3</text>
<rect x="336.45" y="139.56" width="8.00" height="20.74" fill="#000"/>
<line x1="340.45" y1="139.56" x2="340.45" y2="133.42" stroke="#444" stroke-width="0.65"/>
<line x1="338.95" y1="133.42" x2="341.95" y2="133.42" stroke="#444" stroke-width="0.6"/>
<text x="341.45" y="166.30" font-family='"Liberation Serif", serif' font-size="6.7" font-weight="bold" text-anchor="end" fill="#000" transform="rotate(-45 341.45 166.30)" stroke="#000" stroke-width="0.28">Flu</text>
<rect x="348.50" y="137.64" width="8.00" height="22.66" fill="#000"/>
<line x1="352.50" y1="137.64" x2="352.50" y2="134.96" stroke="#444" stroke-width="0.65"/>
<line x1="351.00" y1="134.96" x2="354.00" y2="134.96" stroke="#444" stroke-width="0.6"/>
<text x="355.90" y="166.30" font-family='"Liberation Serif", serif' font-size="6.7" font-weight="bold" text-anchor="end" fill="#000" transform="rotate(-45 355.90 166.30)" stroke="#000" stroke-width="0.28">IFN-<tspan dx="0.3" font-size="7.2">α</tspan></text>
<rect x="361.45" y="135.34" width="8.00" height="24.96" fill="#000"/>
<line x1="365.45" y1="135.34" x2="365.45" y2="124.59" stroke="#444" stroke-width="0.65"/>
<line x1="363.95" y1="124.59" x2="366.95" y2="124.59" stroke="#444" stroke-width="0.6"/>
<text x="368.85" y="166.30" font-family='"Liberation Serif", serif' font-size="6.7" font-weight="bold" text-anchor="end" fill="#000" transform="rotate(-45 368.85 166.30)" stroke="#000" stroke-width="0.28">TNF-<tspan dx="0.3" font-size="7.2">α</tspan></text>
<rect x="373.30" y="139.18" width="8.00" height="21.12" fill="#000"/>
<line x1="377.30" y1="139.18" x2="377.30" y2="131.50" stroke="#444" stroke-width="0.65"/>
<line x1="375.80" y1="131.50" x2="378.80" y2="131.50" stroke="#444" stroke-width="0.6"/>
<text x="379.90" y="166.30" font-family='"Liberation Serif", serif' font-size="6.7" font-weight="bold" text-anchor="end" fill="#000" transform="rotate(-45 379.90 166.30)" stroke="#000" stroke-width="0.28">IFN-<tspan dx="0.3" font-size="7.2">α</tspan></text>
<text x="391.40" y="165.30" font-family='"Liberation Serif", serif' font-size="6.7" font-weight="bold" text-anchor="end" fill="#000" transform="rotate(-45 391.40 165.30)" stroke="#000" stroke-width="0.28">+ TNF-<tspan dx="0.3" font-size="7.2">α</tspan></text>
<text x="467.20" y="102.60" font-family='"Liberation Serif", serif' font-size="6.55" font-weight="bold" text-anchor="middle" fill="#000" stroke="#000" stroke-width="0.28">BAD</text>
<line x1="425.80" y1="117.90" x2="425.80" y2="160.60" stroke="#6a6a6a" stroke-width="0.9"/>
<line x1="425.50" y1="160.30" x2="507.80" y2="160.30" stroke="#333" stroke-width="0.7"/>
<text x="422.40" y="162.60" font-family='"Liberation Serif", serif' font-size="6.95" font-weight="bold" text-anchor="end" fill="#000" stroke="#000" stroke-width="0.28">0</text>
<text x="422.40" y="154.92" font-family='"Liberation Serif", serif' font-size="6.95" font-weight="bold" text-anchor="end" fill="#000" stroke="#000" stroke-width="0.28">20</text>
<text x="422.40" y="147.24" font-family='"Liberation Serif", serif' font-size="6.95" font-weight="bold" text-anchor="end" fill="#000" stroke="#000" stroke-width="0.28">40</text>
<text x="422.40" y="139.56" font-family='"Liberation Serif", serif' font-size="6.95" font-weight="bold" text-anchor="end" fill="#000" stroke="#000" stroke-width="0.28">60</text>
<text x="422.40" y="131.88" font-family='"Liberation Serif", serif' font-size="6.95" font-weight="bold" text-anchor="end" fill="#000" stroke="#000" stroke-width="0.28">80</text>
<text x="422.40" y="124.20" font-family='"Liberation Serif", serif' font-size="6.95" font-weight="bold" text-anchor="end" fill="#000" stroke="#000" stroke-width="0.28">100</text>
<text x="401.10" y="140.10" font-family='"Liberation Serif", serif' font-size="6.6" font-weight="bold" text-anchor="middle" fill="#000" transform="rotate(-90 401.10 140.10)" stroke="#000" stroke-width="0.28">Relative mRNA</text>
<text x="408.20" y="140.10" font-family='"Liberation Serif", serif' font-size="6.6" font-weight="bold" text-anchor="middle" fill="#000" transform="rotate(-90 408.20 140.10)" stroke="#000" stroke-width="0.28">Expression (%)</text>
<rect x="428.30" y="131.50" width="8.00" height="28.80" fill="#000"/>
<line x1="432.30" y1="131.50" x2="432.30" y2="123.05" stroke="#444" stroke-width="0.65"/>
<line x1="430.80" y1="123.05" x2="433.80" y2="123.05" stroke="#444" stroke-width="0.6"/>
<text x="434.90" y="166.30" font-family='"Liberation Serif", serif' font-size="6.7" font-weight="bold" text-anchor="end" fill="#000" transform="rotate(-45 434.90 166.30)" stroke="#000" stroke-width="0.28">Ex vivo</text>
<rect x="439.85" y="122.28" width="8.00" height="38.02" fill="#000"/>
<line x1="443.85" y1="122.28" x2="443.85" y2="116.91" stroke="#444" stroke-width="0.65"/>
<line x1="442.35" y1="116.91" x2="445.35" y2="116.91" stroke="#444" stroke-width="0.6"/>
<text x="446.45" y="166.30" font-family='"Liberation Serif", serif' font-size="6.7" font-weight="bold" text-anchor="end" fill="#000" transform="rotate(-45 446.45 166.30)" stroke="#000" stroke-width="0.28">Med</text>
<rect x="451.40" y="133.04" width="8.00" height="27.26" fill="#000"/>
<line x1="455.40" y1="133.04" x2="455.40" y2="123.44" stroke="#444" stroke-width="0.65"/>
<line x1="453.90" y1="123.44" x2="456.90" y2="123.44" stroke="#444" stroke-width="0.6"/>
<text x="458.00" y="166.30" font-family='"Liberation Serif", serif' font-size="6.7" font-weight="bold" text-anchor="end" fill="#000" transform="rotate(-45 458.00 166.30)" stroke="#000" stroke-width="0.28">IL3</text>
<rect x="463.25" y="145.32" width="8.00" height="14.98" fill="#000"/>
<line x1="467.25" y1="145.32" x2="467.25" y2="135.34" stroke="#444" stroke-width="0.65"/>
<line x1="465.75" y1="135.34" x2="468.75" y2="135.34" stroke="#444" stroke-width="0.6"/>
<text x="468.25" y="166.30" font-family='"Liberation Serif", serif' font-size="6.7" font-weight="bold" text-anchor="end" fill="#000" transform="rotate(-45 468.25 166.30)" stroke="#000" stroke-width="0.28">Flu</text>
<rect x="475.20" y="129.58" width="8.00" height="30.72" fill="#000"/>
<line x1="479.20" y1="129.58" x2="479.20" y2="121.90" stroke="#444" stroke-width="0.65"/>
<line x1="477.70" y1="121.90" x2="480.70" y2="121.90" stroke="#444" stroke-width="0.6"/>
<text x="482.60" y="166.30" font-family='"Liberation Serif", serif' font-size="6.7" font-weight="bold" text-anchor="end" fill="#000" transform="rotate(-45 482.60 166.30)" stroke="#000" stroke-width="0.28">IFN-<tspan dx="0.3" font-size="7.2">α</tspan></text>
<rect x="488.35" y="128.43" width="8.00" height="31.87" fill="#000"/>
<line x1="492.35" y1="128.43" x2="492.35" y2="121.90" stroke="#444" stroke-width="0.65"/>
<line x1="490.85" y1="121.90" x2="493.85" y2="121.90" stroke="#444" stroke-width="0.6"/>
<text x="495.75" y="166.30" font-family='"Liberation Serif", serif' font-size="6.7" font-weight="bold" text-anchor="end" fill="#000" transform="rotate(-45 495.75 166.30)" stroke="#000" stroke-width="0.28">TNF-<tspan dx="0.3" font-size="7.2">α</tspan></text>
<rect x="500.20" y="130.35" width="8.00" height="29.95" fill="#000"/>
<line x1="504.20" y1="130.35" x2="504.20" y2="122.67" stroke="#444" stroke-width="0.65"/>
<line x1="502.70" y1="122.67" x2="505.70" y2="122.67" stroke="#444" stroke-width="0.6"/>
<text x="506.80" y="166.30" font-family='"Liberation Serif", serif' font-size="6.7" font-weight="bold" text-anchor="end" fill="#000" transform="rotate(-45 506.80 166.30)" stroke="#000" stroke-width="0.28">IFN-<tspan dx="0.3" font-size="7.2">α</tspan></text>
<text x="518.30" y="165.30" font-family='"Liberation Serif", serif' font-size="6.7" font-weight="bold" text-anchor="end" fill="#000" transform="rotate(-45 518.30 165.30)" stroke="#000" stroke-width="0.28">+ TNF-<tspan dx="0.3" font-size="7.2">α</tspan></text>
<polyline points="444.00,112.00 444.00,109.40 467.40,109.40 467.40,135.40" fill="none" stroke="#3a3a3a" stroke-width="0.65"/>
<text x="455.70" y="110.00" font-family='"Liberation Serif", serif' font-size="7.3" font-weight="bold" text-anchor="middle" fill="#2a2a2a" stroke="#2a2a2a" stroke-width="0.08">**</text>
<text x="338.20" y="217.20" font-family='"Liberation Serif", serif' font-size="6.55" font-weight="bold" text-anchor="middle" fill="#000" stroke="#000" stroke-width="0.28">BCL2L1 (bcl-xL)</text>
<line x1="298.30" y1="232.80" x2="298.30" y2="275.50" stroke="#6a6a6a" stroke-width="0.9"/>
<line x1="298.00" y1="275.20" x2="381.00" y2="275.20" stroke="#333" stroke-width="0.7"/>
<text x="294.90" y="277.50" font-family='"Liberation Serif", serif' font-size="6.95" font-weight="bold" text-anchor="end" fill="#000" stroke="#000" stroke-width="0.28">0</text>
<text x="294.90" y="269.82" font-family='"Liberation Serif", serif' font-size="6.95" font-weight="bold" text-anchor="end" fill="#000" stroke="#000" stroke-width="0.28">20</text>
<text x="294.90" y="262.14" font-family='"Liberation Serif", serif' font-size="6.95" font-weight="bold" text-anchor="end" fill="#000" stroke="#000" stroke-width="0.28">40</text>
<text x="294.90" y="254.46" font-family='"Liberation Serif", serif' font-size="6.95" font-weight="bold" text-anchor="end" fill="#000" stroke="#000" stroke-width="0.28">60</text>
<text x="294.90" y="246.78" font-family='"Liberation Serif", serif' font-size="6.95" font-weight="bold" text-anchor="end" fill="#000" stroke="#000" stroke-width="0.28">80</text>
<text x="294.90" y="239.10" font-family='"Liberation Serif", serif' font-size="6.95" font-weight="bold" text-anchor="end" fill="#000" stroke="#000" stroke-width="0.28">100</text>
<text x="272.40" y="255.00" font-family='"Liberation Serif", serif' font-size="6.6" font-weight="bold" text-anchor="middle" fill="#000" transform="rotate(-90 272.40 255.00)" stroke="#000" stroke-width="0.28">Relative mRNA</text>
<text x="279.50" y="255.00" font-family='"Liberation Serif", serif' font-size="6.6" font-weight="bold" text-anchor="middle" fill="#000" transform="rotate(-90 279.50 255.00)" stroke="#000" stroke-width="0.28">Expression (%)</text>
<rect x="300.80" y="274.05" width="8.00" height="1.15" fill="#000"/>
<text x="307.40" y="281.20" font-family='"Liberation Serif", serif' font-size="6.25" font-weight="bold" text-anchor="end" fill="#000" transform="rotate(-45 307.40 281.20)" stroke="#000" stroke-width="0.28">Ex vivo</text>
<rect x="312.35" y="270.21" width="8.00" height="4.99" fill="#000"/>
<line x1="316.35" y1="270.21" x2="316.35" y2="268.67" stroke="#444" stroke-width="0.65"/>
<line x1="314.85" y1="268.67" x2="317.85" y2="268.67" stroke="#444" stroke-width="0.6"/>
<text x="318.95" y="281.20" font-family='"Liberation Serif", serif' font-size="6.25" font-weight="bold" text-anchor="end" fill="#000" transform="rotate(-45 318.95 281.20)" stroke="#000" stroke-width="0.28">Med</text>
<rect x="324.10" y="239.87" width="8.00" height="35.33" fill="#000"/>
<line x1="328.10" y1="239.87" x2="328.10" y2="234.88" stroke="#444" stroke-width="0.65"/>
<line x1="326.60" y1="234.88" x2="329.60" y2="234.88" stroke="#444" stroke-width="0.6"/>
<text x="328.80" y="281.20" font-family='"Liberation Serif", serif' font-size="6.25" font-weight="bold" text-anchor="end" fill="#000" transform="rotate(-45 328.80 281.20)" stroke="#000" stroke-width="0.28">Flu + Ig ct</text>
<rect x="335.95" y="255.62" width="8.00" height="19.58" fill="#000"/>
<line x1="339.95" y1="255.62" x2="339.95" y2="251.39" stroke="#444" stroke-width="0.65"/>
<line x1="338.45" y1="251.39" x2="341.45" y2="251.39" stroke="#444" stroke-width="0.6"/>
<text x="340.65" y="281.20" font-family='"Liberation Serif", serif' font-size="6.25" font-weight="bold" text-anchor="end" fill="#000" transform="rotate(-45 340.65 281.20)" stroke="#000" stroke-width="0.28">Flu + aIFN-α</text>
<rect x="348.20" y="242.18" width="8.00" height="33.02" fill="#000"/>
<line x1="352.20" y1="242.18" x2="352.20" y2="237.57" stroke="#444" stroke-width="0.65"/>
<line x1="350.70" y1="237.57" x2="353.70" y2="237.57" stroke="#444" stroke-width="0.6"/>
<text x="352.90" y="281.20" font-family='"Liberation Serif", serif' font-size="6.25" font-weight="bold" text-anchor="end" fill="#000" transform="rotate(-45 352.90 281.20)" stroke="#000" stroke-width="0.28">Flu + aTNF-α</text>
<rect x="361.83" y="259.84" width="8.00" height="15.36" fill="#000"/>
<line x1="365.83" y1="259.84" x2="365.83" y2="255.23" stroke="#444" stroke-width="0.65"/>
<line x1="364.33" y1="255.23" x2="367.33" y2="255.23" stroke="#444" stroke-width="0.6"/>
<text x="369.23" y="281.30" font-family='"Liberation Serif", serif' font-size="6.25" font-weight="bold" text-anchor="end" fill="#000" transform="rotate(-45 369.23 281.30)" stroke="#000" stroke-width="0.28">Flu + aIFN-α</text>
<text x="372.33" y="290.30" font-family='"Liberation Serif", serif' font-size="6.25" font-weight="bold" text-anchor="end" fill="#000" transform="rotate(-45 372.33 290.30)" stroke="#000" stroke-width="0.28">+ aTNF-α</text>
<polyline points="317.00,258.80 317.00,230.40 328.90,230.40 328.90,235.40" fill="none" stroke="#3a3a3a" stroke-width="0.65"/>
<text x="322.90" y="230.40" font-family='"Liberation Serif", serif' font-size="7.3" font-weight="bold" text-anchor="middle" fill="#2a2a2a" stroke="#2a2a2a" stroke-width="0.08">**</text>
<polyline points="330.10,233.00 330.10,230.40 340.10,230.40 340.10,249.30" fill="none" stroke="#3a3a3a" stroke-width="0.65"/>
<text x="336.00" y="230.40" font-family='"Liberation Serif", serif' font-size="7.3" font-weight="bold" text-anchor="middle" fill="#2a2a2a" stroke="#2a2a2a" stroke-width="0.08">**</text>
<text x="464.20" y="217.20" font-family='"Liberation Serif", serif' font-size="6.55" font-weight="bold" text-anchor="middle" fill="#000" stroke="#000" stroke-width="0.28">BCL2</text>
<line x1="426.80" y1="232.80" x2="426.80" y2="275.50" stroke="#6a6a6a" stroke-width="0.9"/>
<line x1="426.50" y1="275.20" x2="509.50" y2="275.20" stroke="#333" stroke-width="0.7"/>
<text x="423.40" y="277.50" font-family='"Liberation Serif", serif' font-size="6.95" font-weight="bold" text-anchor="end" fill="#000" stroke="#000" stroke-width="0.28">0</text>
<text x="423.40" y="269.82" font-family='"Liberation Serif", serif' font-size="6.95" font-weight="bold" text-anchor="end" fill="#000" stroke="#000" stroke-width="0.28">20</text>
<text x="423.40" y="262.14" font-family='"Liberation Serif", serif' font-size="6.95" font-weight="bold" text-anchor="end" fill="#000" stroke="#000" stroke-width="0.28">40</text>
<text x="423.40" y="254.46" font-family='"Liberation Serif", serif' font-size="6.95" font-weight="bold" text-anchor="end" fill="#000" stroke="#000" stroke-width="0.28">60</text>
<text x="423.40" y="246.78" font-family='"Liberation Serif", serif' font-size="6.95" font-weight="bold" text-anchor="end" fill="#000" stroke="#000" stroke-width="0.28">80</text>
<text x="423.40" y="239.10" font-family='"Liberation Serif", serif' font-size="6.95" font-weight="bold" text-anchor="end" fill="#000" stroke="#000" stroke-width="0.28">100</text>
<text x="401.00" y="255.00" font-family='"Liberation Serif", serif' font-size="6.6" font-weight="bold" text-anchor="middle" fill="#000" transform="rotate(-90 401.00 255.00)" stroke="#000" stroke-width="0.28">Relative mRNA</text>
<text x="408.10" y="255.00" font-family='"Liberation Serif", serif' font-size="6.6" font-weight="bold" text-anchor="middle" fill="#000" transform="rotate(-90 408.10 255.00)" stroke="#000" stroke-width="0.28">Expression (%)</text>
<rect x="428.25" y="274.05" width="8.00" height="1.15" fill="#000"/>
<text x="434.85" y="281.20" font-family='"Liberation Serif", serif' font-size="6.25" font-weight="bold" text-anchor="end" fill="#000" transform="rotate(-45 434.85 281.20)" stroke="#000" stroke-width="0.28">Ex vivo</text>
<rect x="439.80" y="272.13" width="8.00" height="3.07" fill="#000"/>
<line x1="443.80" y1="272.13" x2="443.80" y2="271.36" stroke="#444" stroke-width="0.65"/>
<line x1="442.30" y1="271.36" x2="445.30" y2="271.36" stroke="#444" stroke-width="0.6"/>
<text x="446.40" y="281.20" font-family='"Liberation Serif", serif' font-size="6.25" font-weight="bold" text-anchor="end" fill="#000" transform="rotate(-45 446.40 281.20)" stroke="#000" stroke-width="0.28">Med</text>
<rect x="451.55" y="239.87" width="8.00" height="35.33" fill="#000"/>
<line x1="455.55" y1="239.87" x2="455.55" y2="234.88" stroke="#444" stroke-width="0.65"/>
<line x1="454.05" y1="234.88" x2="457.05" y2="234.88" stroke="#444" stroke-width="0.6"/>
<text x="456.25" y="281.20" font-family='"Liberation Serif", serif' font-size="6.25" font-weight="bold" text-anchor="end" fill="#000" transform="rotate(-45 456.25 281.20)" stroke="#000" stroke-width="0.28">Flu + Ig ct</text>
<rect x="463.40" y="269.06" width="8.00" height="6.14" fill="#000"/>
<line x1="467.40" y1="269.06" x2="467.40" y2="267.14" stroke="#444" stroke-width="0.65"/>
<line x1="465.90" y1="267.14" x2="468.90" y2="267.14" stroke="#444" stroke-width="0.6"/>
<text x="468.10" y="281.20" font-family='"Liberation Serif", serif' font-size="6.25" font-weight="bold" text-anchor="end" fill="#000" transform="rotate(-45 468.10 281.20)" stroke="#000" stroke-width="0.28">Flu + aIFN-α</text>
<rect x="475.65" y="244.48" width="8.00" height="30.72" fill="#000"/>
<line x1="479.65" y1="244.48" x2="479.65" y2="237.57" stroke="#444" stroke-width="0.65"/>
<line x1="478.15" y1="237.57" x2="481.15" y2="237.57" stroke="#444" stroke-width="0.6"/>
<text x="480.35" y="281.20" font-family='"Liberation Serif", serif' font-size="6.25" font-weight="bold" text-anchor="end" fill="#000" transform="rotate(-45 480.35 281.20)" stroke="#000" stroke-width="0.28">Flu + aTNF-α</text>
<rect x="489.28" y="266.75" width="8.00" height="8.45" fill="#000"/>
<line x1="493.28" y1="266.75" x2="493.28" y2="264.45" stroke="#444" stroke-width="0.65"/>
<line x1="491.78" y1="264.45" x2="494.78" y2="264.45" stroke="#444" stroke-width="0.6"/>
<text x="496.68" y="281.30" font-family='"Liberation Serif", serif' font-size="6.25" font-weight="bold" text-anchor="end" fill="#000" transform="rotate(-45 496.68 281.30)" stroke="#000" stroke-width="0.28">Flu + aIFN-α</text>
<text x="499.78" y="290.30" font-family='"Liberation Serif", serif' font-size="6.25" font-weight="bold" text-anchor="end" fill="#000" transform="rotate(-45 499.78 290.30)" stroke="#000" stroke-width="0.28">+ aTNF-α</text>
<polyline points="444.00,258.80 444.00,229.60 455.50,229.60 455.50,234.50" fill="none" stroke="#3a3a3a" stroke-width="0.65"/>
<text x="449.40" y="230.10" font-family='"Liberation Serif", serif' font-size="7.3" font-weight="bold" text-anchor="middle" fill="#2a2a2a" stroke="#2a2a2a" stroke-width="0.08">**</text>
<polyline points="456.70,233.00 456.70,229.60 467.30,229.60 467.30,249.50" fill="none" stroke="#3a3a3a" stroke-width="0.65"/>
<text x="461.90" y="230.10" font-family='"Liberation Serif", serif' font-size="7.3" font-weight="bold" text-anchor="middle" fill="#2a2a2a" stroke="#2a2a2a" stroke-width="0.08">**</text>
<text x="337.40" y="321.20" font-family='"Liberation Serif", serif' font-size="6.55" font-weight="bold" text-anchor="middle" fill="#000" stroke="#000" stroke-width="0.28">BIRC3 (iap-2)</text>
<line x1="299.50" y1="334.40" x2="299.50" y2="377.10" stroke="#6a6a6a" stroke-width="0.9"/>
<line x1="299.20" y1="376.80" x2="382.20" y2="376.80" stroke="#333" stroke-width="0.7"/>
<text x="296.10" y="379.10" font-family='"Liberation Serif", serif' font-size="6.95" font-weight="bold" text-anchor="end" fill="#000" stroke="#000" stroke-width="0.28">0</text>
<text x="296.10" y="371.42" font-family='"Liberation Serif", serif' font-size="6.95" font-weight="bold" text-anchor="end" fill="#000" stroke="#000" stroke-width="0.28">20</text>
<text x="296.10" y="363.74" font-family='"Liberation Serif", serif' font-size="6.95" font-weight="bold" text-anchor="end" fill="#000" stroke="#000" stroke-width="0.28">40</text>
<text x="296.10" y="356.06" font-family='"Liberation Serif", serif' font-size="6.95" font-weight="bold" text-anchor="end" fill="#000" stroke="#000" stroke-width="0.28">60</text>
<text x="296.10" y="348.38" font-family='"Liberation Serif", serif' font-size="6.95" font-weight="bold" text-anchor="end" fill="#000" stroke="#000" stroke-width="0.28">80</text>
<text x="296.10" y="340.70" font-family='"Liberation Serif", serif' font-size="6.95" font-weight="bold" text-anchor="end" fill="#000" stroke="#000" stroke-width="0.28">100</text>
<text x="271.75" y="356.60" font-family='"Liberation Serif", serif' font-size="6.6" font-weight="bold" text-anchor="middle" fill="#000" transform="rotate(-90 271.75 356.60)" stroke="#000" stroke-width="0.28">Relative mRNA</text>
<text x="278.85" y="356.60" font-family='"Liberation Serif", serif' font-size="6.6" font-weight="bold" text-anchor="middle" fill="#000" transform="rotate(-90 278.85 356.60)" stroke="#000" stroke-width="0.28">Expression (%)</text>
<rect x="301.20" y="375.65" width="8.00" height="1.15" fill="#000"/>
<text x="307.80" y="382.80" font-family='"Liberation Serif", serif' font-size="6.25" font-weight="bold" text-anchor="end" fill="#000" transform="rotate(-45 307.80 382.80)" stroke="#000" stroke-width="0.28">Ex vivo</text>
<rect x="312.75" y="369.50" width="8.00" height="7.30" fill="#000"/>
<line x1="316.75" y1="369.50" x2="316.75" y2="367.20" stroke="#444" stroke-width="0.65"/>
<line x1="315.25" y1="367.20" x2="318.25" y2="367.20" stroke="#444" stroke-width="0.6"/>
<text x="319.35" y="382.80" font-family='"Liberation Serif", serif' font-size="6.25" font-weight="bold" text-anchor="end" fill="#000" transform="rotate(-45 319.35 382.80)" stroke="#000" stroke-width="0.28">Med</text>
<rect x="324.50" y="339.17" width="8.00" height="37.63" fill="#000"/>
<line x1="328.50" y1="339.17" x2="328.50" y2="336.48" stroke="#444" stroke-width="0.65"/>
<line x1="327.00" y1="336.48" x2="330.00" y2="336.48" stroke="#444" stroke-width="0.6"/>
<text x="329.20" y="382.80" font-family='"Liberation Serif", serif' font-size="6.25" font-weight="bold" text-anchor="end" fill="#000" transform="rotate(-45 329.20 382.80)" stroke="#000" stroke-width="0.28">Flu + Ig ct</text>
<rect x="336.35" y="349.15" width="8.00" height="27.65" fill="#000"/>
<line x1="340.35" y1="349.15" x2="340.35" y2="340.70" stroke="#444" stroke-width="0.65"/>
<line x1="338.85" y1="340.70" x2="341.85" y2="340.70" stroke="#444" stroke-width="0.6"/>
<text x="341.05" y="382.80" font-family='"Liberation Serif", serif' font-size="6.25" font-weight="bold" text-anchor="end" fill="#000" transform="rotate(-45 341.05 382.80)" stroke="#000" stroke-width="0.28">Flu + aIFN-α</text>
<rect x="348.60" y="343.78" width="8.00" height="33.02" fill="#000"/>
<line x1="352.60" y1="343.78" x2="352.60" y2="335.33" stroke="#444" stroke-width="0.65"/>
<line x1="351.10" y1="335.33" x2="354.10" y2="335.33" stroke="#444" stroke-width="0.6"/>
<text x="353.30" y="382.80" font-family='"Liberation Serif", serif' font-size="6.25" font-weight="bold" text-anchor="end" fill="#000" transform="rotate(-45 353.30 382.80)" stroke="#000" stroke-width="0.28">Flu + aTNF-α</text>
<rect x="362.23" y="351.84" width="8.00" height="24.96" fill="#000"/>
<line x1="366.23" y1="351.84" x2="366.23" y2="343.78" stroke="#444" stroke-width="0.65"/>
<line x1="364.73" y1="343.78" x2="367.73" y2="343.78" stroke="#444" stroke-width="0.6"/>
<text x="369.63" y="382.90" font-family='"Liberation Serif", serif' font-size="6.25" font-weight="bold" text-anchor="end" fill="#000" transform="rotate(-45 369.63 382.90)" stroke="#000" stroke-width="0.28">Flu + aIFN-α</text>
<text x="372.73" y="391.90" font-family='"Liberation Serif", serif' font-size="6.25" font-weight="bold" text-anchor="end" fill="#000" transform="rotate(-45 372.73 391.90)" stroke="#000" stroke-width="0.28">+ aTNF-α</text>
<polyline points="316.40,361.50 316.40,330.70 328.50,330.70 328.50,335.60" fill="none" stroke="#3a3a3a" stroke-width="0.65"/>
<text x="322.60" y="331.35" font-family='"Liberation Serif", serif' font-size="7.3" font-weight="bold" text-anchor="middle" fill="#2a2a2a" stroke="#2a2a2a" stroke-width="0.08">**</text>
<text x="463.60" y="321.20" font-family='"Liberation Serif", serif' font-size="6.55" font-weight="bold" text-anchor="middle" fill="#000" stroke="#000" stroke-width="0.28">CFLAR (cflip)</text>
<line x1="426.50" y1="334.40" x2="426.50" y2="377.10" stroke="#6a6a6a" stroke-width="0.9"/>
<line x1="426.20" y1="376.80" x2="509.20" y2="376.80" stroke="#333" stroke-width="0.7"/>
<text x="423.10" y="379.10" font-family='"Liberation Serif", serif' font-size="6.95" font-weight="bold" text-anchor="end" fill="#000" stroke="#000" stroke-width="0.28">0</text>
<text x="423.10" y="371.42" font-family='"Liberation Serif", serif' font-size="6.95" font-weight="bold" text-anchor="end" fill="#000" stroke="#000" stroke-width="0.28">20</text>
<text x="423.10" y="363.74" font-family='"Liberation Serif", serif' font-size="6.95" font-weight="bold" text-anchor="end" fill="#000" stroke="#000" stroke-width="0.28">40</text>
<text x="423.10" y="356.06" font-family='"Liberation Serif", serif' font-size="6.95" font-weight="bold" text-anchor="end" fill="#000" stroke="#000" stroke-width="0.28">60</text>
<text x="423.10" y="348.38" font-family='"Liberation Serif", serif' font-size="6.95" font-weight="bold" text-anchor="end" fill="#000" stroke="#000" stroke-width="0.28">80</text>
<text x="423.10" y="340.70" font-family='"Liberation Serif", serif' font-size="6.95" font-weight="bold" text-anchor="end" fill="#000" stroke="#000" stroke-width="0.28">100</text>
<text x="401.00" y="356.60" font-family='"Liberation Serif", serif' font-size="6.6" font-weight="bold" text-anchor="middle" fill="#000" transform="rotate(-90 401.00 356.60)" stroke="#000" stroke-width="0.28">Relative mRNA</text>
<text x="408.10" y="356.60" font-family='"Liberation Serif", serif' font-size="6.6" font-weight="bold" text-anchor="middle" fill="#000" transform="rotate(-90 408.10 356.60)" stroke="#000" stroke-width="0.28">Expression (%)</text>
<rect x="428.20" y="372.19" width="8.00" height="4.61" fill="#000"/>
<line x1="432.20" y1="372.19" x2="432.20" y2="369.89" stroke="#444" stroke-width="0.65"/>
<line x1="430.70" y1="369.89" x2="433.70" y2="369.89" stroke="#444" stroke-width="0.6"/>
<text x="434.80" y="382.80" font-family='"Liberation Serif", serif' font-size="6.25" font-weight="bold" text-anchor="end" fill="#000" transform="rotate(-45 434.80 382.80)" stroke="#000" stroke-width="0.28">Ex vivo</text>
<rect x="439.75" y="370.27" width="8.00" height="6.53" fill="#000"/>
<line x1="443.75" y1="370.27" x2="443.75" y2="367.20" stroke="#444" stroke-width="0.65"/>
<line x1="442.25" y1="367.20" x2="445.25" y2="367.20" stroke="#444" stroke-width="0.6"/>
<text x="446.35" y="382.80" font-family='"Liberation Serif", serif' font-size="6.25" font-weight="bold" text-anchor="end" fill="#000" transform="rotate(-45 446.35 382.80)" stroke="#000" stroke-width="0.28">Med</text>
<rect x="451.50" y="348.38" width="8.00" height="28.42" fill="#000"/>
<line x1="455.50" y1="348.38" x2="455.50" y2="332.64" stroke="#444" stroke-width="0.65"/>
<line x1="454.00" y1="332.64" x2="457.00" y2="332.64" stroke="#444" stroke-width="0.6"/>
<text x="456.20" y="382.80" font-family='"Liberation Serif", serif' font-size="6.25" font-weight="bold" text-anchor="end" fill="#000" transform="rotate(-45 456.20 382.80)" stroke="#000" stroke-width="0.28">Flu + Ig ct</text>
<rect x="463.35" y="358.37" width="8.00" height="18.43" fill="#000"/>
<line x1="467.35" y1="358.37" x2="467.35" y2="352.22" stroke="#444" stroke-width="0.65"/>
<line x1="465.85" y1="352.22" x2="468.85" y2="352.22" stroke="#444" stroke-width="0.6"/>
<text x="468.05" y="382.80" font-family='"Liberation Serif", serif' font-size="6.25" font-weight="bold" text-anchor="end" fill="#000" transform="rotate(-45 468.05 382.80)" stroke="#000" stroke-width="0.28">Flu + aIFN-α</text>
<rect x="475.60" y="344.54" width="8.00" height="32.26" fill="#000"/>
<line x1="479.60" y1="344.54" x2="479.60" y2="337.25" stroke="#444" stroke-width="0.65"/>
<line x1="478.10" y1="337.25" x2="481.10" y2="337.25" stroke="#444" stroke-width="0.6"/>
<text x="480.30" y="382.80" font-family='"Liberation Serif", serif' font-size="6.25" font-weight="bold" text-anchor="end" fill="#000" transform="rotate(-45 480.30 382.80)" stroke="#000" stroke-width="0.28">Flu + aTNF-α</text>
<rect x="489.23" y="360.29" width="8.00" height="16.51" fill="#000"/>
<line x1="493.23" y1="360.29" x2="493.23" y2="354.14" stroke="#444" stroke-width="0.65"/>
<line x1="491.73" y1="354.14" x2="494.73" y2="354.14" stroke="#444" stroke-width="0.6"/>
<text x="496.63" y="382.90" font-family='"Liberation Serif", serif' font-size="6.25" font-weight="bold" text-anchor="end" fill="#000" transform="rotate(-45 496.63 382.90)" stroke="#000" stroke-width="0.28">Flu + aIFN-α</text>
<text x="499.73" y="391.90" font-family='"Liberation Serif", serif' font-size="6.25" font-weight="bold" text-anchor="end" fill="#000" transform="rotate(-45 499.73 391.90)" stroke="#000" stroke-width="0.28">+ aTNF-α</text>
<polyline points="443.60,361.50 443.60,331.10 455.30,331.10 455.30,336.40" fill="none" stroke="#3a3a3a" stroke-width="0.65"/>
<text x="447.80" y="332.00" font-family='"Liberation Serif", serif' font-size="7.3" font-weight="bold" text-anchor="middle" fill="#2a2a2a" stroke="#2a2a2a" stroke-width="0.08">*</text>
<text x="146.20" y="230.70" font-family='"Liberation Serif", serif' font-size="6.62" font-weight="bold" text-anchor="middle" fill="#000" stroke="#000" stroke-width="0.28">Pro/Anti-apoptosis balance</text>
<line x1="88.30" y1="243.90" x2="88.30" y2="339.50" stroke="#000" stroke-width="1.0"/>
<line x1="87.80" y1="339.00" x2="208.00" y2="339.00" stroke="#000" stroke-width="1.0"/>
<line x1="86.00" y1="339.00" x2="88.30" y2="339.00" stroke="#000" stroke-width="0.7"/>
<text x="82.30" y="341.50" font-family='"Liberation Serif", serif' font-size="7.2" font-weight="normal" text-anchor="end" fill="#000" stroke="#000" stroke-width="0.16">0</text>
<line x1="86.00" y1="315.35" x2="88.30" y2="315.35" stroke="#000" stroke-width="0.7"/>
<text x="82.30" y="317.85" font-family='"Liberation Serif", serif' font-size="7.2" font-weight="normal" text-anchor="end" fill="#000" stroke="#000" stroke-width="0.16">50</text>
<line x1="86.00" y1="291.70" x2="88.30" y2="291.70" stroke="#000" stroke-width="0.7"/>
<text x="82.30" y="294.20" font-family='"Liberation Serif", serif' font-size="7.2" font-weight="normal" text-anchor="end" fill="#000" stroke="#000" stroke-width="0.16">100</text>
<line x1="86.00" y1="268.05" x2="88.30" y2="268.05" stroke="#000" stroke-width="0.7"/>
<text x="82.30" y="270.55" font-family='"Liberation Serif", serif' font-size="7.2" font-weight="normal" text-anchor="end" fill="#000" stroke="#000" stroke-width="0.16">150</text>
<line x1="86.00" y1="244.40" x2="88.30" y2="244.40" stroke="#000" stroke-width="0.7"/>
<text x="82.30" y="246.90" font-family='"Liberation Serif", serif' font-size="7.2" font-weight="normal" text-anchor="end" fill="#000" stroke="#000" stroke-width="0.16">200</text>
<line x1="88.30" y1="339.00" x2="88.30" y2="340.30" stroke="#000" stroke-width="0.7"/>
<text x="88.30" y="351.00" font-family='"Liberation Serif", serif' font-size="7.2" font-weight="normal" text-anchor="middle" fill="#000" stroke="#000" stroke-width="0.16">0</text>
<line x1="112.14" y1="339.00" x2="112.14" y2="340.30" stroke="#000" stroke-width="0.7"/>
<text x="112.14" y="351.00" font-family='"Liberation Serif", serif' font-size="7.2" font-weight="normal" text-anchor="middle" fill="#000" stroke="#000" stroke-width="0.16">50</text>
<line x1="135.98" y1="339.00" x2="135.98" y2="340.30" stroke="#000" stroke-width="0.7"/>
<text x="135.98" y="351.00" font-family='"Liberation Serif", serif' font-size="7.2" font-weight="normal" text-anchor="middle" fill="#000" stroke="#000" stroke-width="0.16">100</text>
<line x1="159.82" y1="339.00" x2="159.82" y2="340.30" stroke="#000" stroke-width="0.7"/>
<text x="159.82" y="351.00" font-family='"Liberation Serif", serif' font-size="7.2" font-weight="normal" text-anchor="middle" fill="#000" stroke="#000" stroke-width="0.16">150</text>
<line x1="183.66" y1="339.00" x2="183.66" y2="340.30" stroke="#000" stroke-width="0.7"/>
<text x="183.66" y="351.00" font-family='"Liberation Serif", serif' font-size="7.2" font-weight="normal" text-anchor="middle" fill="#000" stroke="#000" stroke-width="0.16">200</text>
<line x1="207.50" y1="339.00" x2="207.50" y2="340.30" stroke="#000" stroke-width="0.7"/>
<text x="207.50" y="351.00" font-family='"Liberation Serif", serif' font-size="7.2" font-weight="normal" text-anchor="middle" fill="#000" stroke="#000" stroke-width="0.16">250</text>
<text x="153.00" y="364.50" font-family='"Liberation Serif", serif' font-size="6.45" font-weight="bold" text-anchor="middle" fill="#000" stroke="#000" stroke-width="0.28">Anti-apoptosis vector</text>
<text x="64.20" y="284.00" font-family='"Liberation Serif", serif' font-size="6.45" font-weight="bold" text-anchor="middle" fill="#000" transform="rotate(-90 64.20 284.00)" stroke="#000" stroke-width="0.28">Pro-apoptosis vector</text>
<line x1="132.00" y1="254.00" x2="136.10" y2="254.00" stroke="#444" stroke-width="0.45"/>
<line x1="134.60" y1="253.00" x2="134.60" y2="255.00" stroke="#444" stroke-width="0.45"/>
<path d="M134.60,252.75 L135.85,254.00 L134.60,255.25 L133.35,254.00 Z" fill="#000"/>
<text x="137.70" y="253.20" font-family='"Liberation Sans", sans-serif' font-size="5.8" font-weight="normal" text-anchor="start" fill="#111" letter-spacing="0.25" stroke="#111" stroke-width="0.12">IL3</text>
<line x1="107.50" y1="265.00" x2="109.50" y2="265.00" stroke="#444" stroke-width="0.45"/>
<line x1="108.50" y1="262.80" x2="108.50" y2="267.20" stroke="#444" stroke-width="0.45"/>
<path d="M108.50,263.75 L109.75,265.00 L108.50,266.25 L107.25,265.00 Z" fill="#000"/>
<text x="92.20" y="260.60" font-family='"Liberation Sans", sans-serif' font-size="5.8" font-weight="normal" text-anchor="start" fill="#111" letter-spacing="0.25" stroke="#111" stroke-width="0.12">Medium</text>
<line x1="138.00" y1="270.90" x2="142.00" y2="270.90" stroke="#444" stroke-width="0.45"/>
<line x1="140.00" y1="269.70" x2="140.00" y2="272.10" stroke="#444" stroke-width="0.45"/>
<path d="M140.00,269.65 L141.25,270.90 L140.00,272.15 L138.75,270.90 Z" fill="#000"/>
<text x="126.50" y="268.30" font-family='"Liberation Sans", sans-serif' font-size="5.8" font-weight="normal" text-anchor="start" fill="#111" letter-spacing="0.25" stroke="#111" stroke-width="0.12">TNF</text>
<line x1="109.80" y1="275.00" x2="111.40" y2="275.00" stroke="#444" stroke-width="0.45"/>
<line x1="110.60" y1="273.40" x2="110.60" y2="276.60" stroke="#444" stroke-width="0.45"/>
<path d="M110.60,273.75 L111.85,275.00 L110.60,276.25 L109.35,275.00 Z" fill="#000"/>
<text x="113.00" y="281.20" font-family='"Liberation Sans", sans-serif' font-size="5.8" font-weight="normal" text-anchor="start" fill="#111" letter-spacing="0.25" stroke="#111" stroke-width="0.12">IFNA</text>
<line x1="142.80" y1="272.90" x2="163.40" y2="272.90" stroke="#444" stroke-width="0.45"/>
<line x1="152.60" y1="269.10" x2="152.60" y2="276.70" stroke="#444" stroke-width="0.45"/>
<path d="M152.60,271.65 L153.85,272.90 L152.60,274.15 L151.35,272.90 Z" fill="#000"/>
<text x="156.60" y="279.40" font-family='"Liberation Sans", sans-serif' font-size="5.8" font-weight="normal" text-anchor="start" fill="#111" letter-spacing="0.25" stroke="#111" stroke-width="0.12">IFNA</text>
<line x1="185.50" y1="289.40" x2="187.50" y2="289.40" stroke="#444" stroke-width="0.45"/>
<line x1="186.50" y1="288.40" x2="186.50" y2="290.40" stroke="#444" stroke-width="0.45"/>
<path d="M186.50,288.15 L187.75,289.40 L186.50,290.65 L185.25,289.40 Z" fill="#000"/>
<text x="190.00" y="287.80" font-family='"Liberation Sans", sans-serif' font-size="5.8" font-weight="normal" text-anchor="start" fill="#111" letter-spacing="0.25" stroke="#111" stroke-width="0.12">Flu</text>
<line x1="96.50" y1="293.30" x2="98.10" y2="293.30" stroke="#444" stroke-width="0.45"/>
<line x1="97.30" y1="289.50" x2="97.30" y2="297.10" stroke="#444" stroke-width="0.45"/>
<path d="M97.30,292.05 L98.55,293.30 L97.30,294.55 L96.05,293.30 Z" fill="#000"/>
<text x="100.20" y="299.20" font-family='"Liberation Sans", sans-serif' font-size="5.8" font-weight="normal" text-anchor="start" fill="#111" letter-spacing="0.25" stroke="#111" stroke-width="0.12">Ex vivo</text>
<text x="156.20" y="285.80" font-family='"Liberation Sans", sans-serif' font-size="5.8" font-weight="normal" text-anchor="start" fill="#111" letter-spacing="0.25" stroke="#111" stroke-width="0.12">+TNF</text>
</g>
</svg>
</body>
</html>
